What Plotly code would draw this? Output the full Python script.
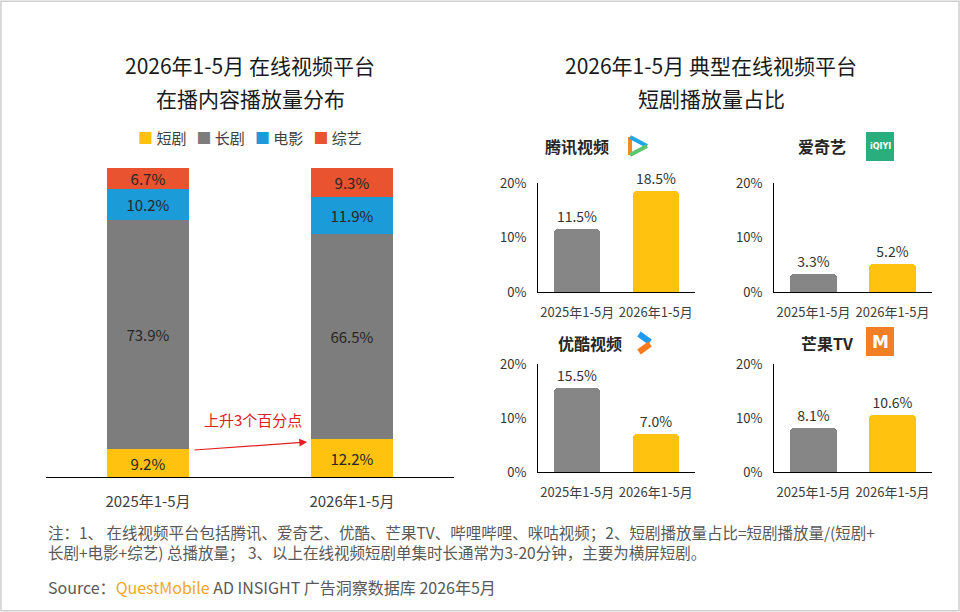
import plotly.graph_objects as go

# ---- data ----
periods = ['2025年1-5月', '2026年1-5月']
short_drama = [9.2, 12.2]
long_drama = [73.9, 66.5]
movie = [10.2, 11.9]
variety = [6.7, 9.3]

platforms = ['腾讯视频', '爱奇艺', '优酷视频', '芒果TV']
share_2025 = [11.5, 3.3, 15.5, 8.1]
share_2026 = [18.5, 5.2, 7.0, 10.6]

pct_ticks = [0, 10, 20]

W, H = 960, 612
FONT = 'Noto Sans CJK SC'
YELLOW = '#FFC20E'
GRAY = '#7d7d7d'
BLUE = '#1B9BD7'
RED = '#E9532F'


def px(x):
    return x / W


def py(y):
    return 1 - y / H


fig = go.Figure()

series = [('短剧', short_drama, YELLOW), ('长剧', long_drama, GRAY),
          ('电影', movie, BLUE), ('综艺', variety, RED)]

# left stacked chart
for name, vals, col in series:
    fig.add_trace(go.Bar(
        x=periods, y=vals, name=name, marker=dict(color=col, line=dict(width=0)),
        width=0.4, text=[f'{v:.1f}%' for v in vals], textposition='inside',
        insidetextanchor='middle', constraintext='none',
        textfont=dict(size=15, color='#262626', family=FONT),
        xaxis='x', yaxis='y', showlegend=False,
    ))

# small charts
for i, p in enumerate(platforms):
    k = i + 2
    vals = [share_2025[i], share_2026[i]]
    fig.add_trace(go.Bar(
        x=periods, y=vals, width=0.59,
        marker=dict(color=['#868686', YELLOW], line=dict(width=0), cornerradius=4),
        text=[f'{v:.1f}%' for v in vals], textposition='outside', cliponaxis=False,
        textfont=dict(size=14, color='#333333', family=FONT),
        xaxis=f'x{k}', yaxis=f'y{k}', showlegend=False,
    ))

layout = dict(
    width=W, height=H, margin=dict(l=0, r=0, t=0, b=0, autoexpand=False),
    paper_bgcolor='white', plot_bgcolor='rgba(0,0,0,0)',
    font=dict(family=FONT, color='#333333'),
    barmode='stack', bargap=0, showlegend=False,
    xaxis=dict(domain=[px(46), px(454)], anchor='y', range=[-0.5, 1.5],
               showline=True, linecolor='#000000', linewidth=1, showgrid=False,
               ticks='outside', ticklen=11, tickcolor='rgba(0,0,0,0)',
               tickfont=dict(size=15, color='#404040'), automargin=False),
    yaxis=dict(domain=[py(477), py(168)], range=[0, 100], visible=False),
)

cols = [(538, 695), (774, 932)]
rows = [(183, 292), (364, 472)]
for i in range(4):
    k = i + 2
    x0, x1 = cols[i % 2]
    y0, y1 = rows[i // 2]
    layout[f'xaxis{k}'] = dict(domain=[px(x0), px(x1)], anchor=f'y{k}', range=[-0.5, 1.5],
                               showline=True, linecolor='#000000', linewidth=1, showgrid=False,
                               ticks='outside', ticklen=8, tickcolor='rgba(0,0,0,0)',
                               tickfont=dict(size=13, color='#404040'), automargin=False)
    layout[f'yaxis{k}'] = dict(domain=[py(y1), py(y0)], anchor=f'x{k}', range=[0, 20],
                               tickmode='array', tickvals=pct_ticks,
                               ticktext=[f'{t}%' for t in pct_ticks],
                               showline=True, linecolor='#000000', linewidth=1,
                               showgrid=False, zeroline=False, automargin=False,
                               ticks='outside', ticklen=8, tickcolor='rgba(0,0,0,0)',
                               tickfont=dict(size=13, color='#333333'))

fig.update_layout(**layout)

ann = []
# titles
for x, lines in [(250, ['2026年1-5月 在线视频平台', '在播内容播放量分布']),
                 (711, ['2026年1-5月 典型在线视频平台', '短剧播放量占比'])]:
    for j, t in enumerate(lines):
        ann.append(dict(text=t, x=px(x), y=py(65 + 33 * j), xref='paper', yref='paper',
                        showarrow=False, xanchor='center', yanchor='middle',
                        font=dict(size=21, color='#1a1a1a', family=FONT)))

# legend row built from the series names and colours
legend_txt = '   '.join(f"<span style='color:{c}'>■</span> {n}" for n, _, c in series)
ann.append(dict(text=legend_txt, x=px(250), y=py(137), xref='paper', yref='paper',
                showarrow=False, xanchor='center', yanchor='middle',
                font=dict(size=15, color='#404040', family=FONT)))

# small chart titles
title_pos = [(577, 146), (822, 146), (590, 343), (827, 343)]
for p, (x, y) in zip(platforms, title_pos):
    ann.append(dict(text=f'<b>{p}</b>', x=px(x), y=py(y), xref='paper', yref='paper',
                    showarrow=False, xanchor='center', yanchor='middle',
                    font=dict(size=16, color='#262626', family=FONT)))

# arrow annotation on left chart
ann.append(dict(x=0.78, y=11.3, xref='x', yref='y', ax=0.22, ay=8.7, axref='x', ayref='y',
                showarrow=True, arrowhead=2, arrowsize=1.3, arrowwidth=1.2,
                arrowcolor='#E02020', text=''))
ann.append(dict(text='上升3个百分点', x=px(253), y=py(419), xref='paper', yref='paper',
                showarrow=False, xanchor='center', yanchor='middle',
                font=dict(size=15, color='#E02020', family=FONT)))

# logos text
ann.append(dict(text='<b>iQIYI</b>', x=px(880), y=py(146.5), xref='paper', yref='paper',
                showarrow=False, xanchor='center', yanchor='middle',
                font=dict(size=8, color='white', family='DejaVu Sans')))
ann.append(dict(text='<b>M</b>', x=px(880), y=py(341.5), xref='paper', yref='paper',
                showarrow=False, xanchor='center', yanchor='middle',
                font=dict(size=17, color='white', family='DejaVu Sans')))

# footnotes
notes = ['注：1、 在线视频平台包括腾讯、爱奇艺、优酷、芒果TV、哔哩哔哩、咪咕视频；2、短剧播放量占比=短剧播放量/(短剧+',
         '长剧+电影+综艺) 总播放量； 3、以上在线视频短剧单集时长通常为3-20分钟，主要为横屏短剧。']
ann.append(dict(text='<br>'.join(notes), x=px(46), y=py(542), xref='paper', yref='paper',
                showarrow=False, xanchor='left', yanchor='middle', align='left',
                font=dict(size=15.5, color='#595959', family=FONT)))
ann.append(dict(text="Source：<span style='color:#F5A623'>QuestMobile</span> AD INSIGHT 广告洞察数据库 2026年5月",
                x=px(46), y=py(587), xref='paper', yref='paper', showarrow=False,
                xanchor='left', yanchor='middle',
                font=dict(size=16, color='#595959', family=FONT)))

shapes = [
    dict(type='rect', xref='paper', yref='paper', x0=0.001, x1=0.999, y0=0.002, y1=0.998,
         line=dict(color='#cfcfcf', width=1.5), layer='below'),
    # tencent video logo
    dict(type='line', xref='paper', yref='paper', x0=px(630), y0=py(137), x1=px(630), y1=py(155),
         line=dict(color='#F08A24', width=4)),
    dict(type='line', xref='paper', yref='paper', x0=px(630), y0=py(137), x1=px(647), y1=py(146),
         line=dict(color='#1FA6E8', width=4)),
    dict(type='line', xref='paper', yref='paper', x0=px(630), y0=py(155), x1=px(647), y1=py(146),
         line=dict(color='#5CC66B', width=4)),
    # iqiyi logo
    dict(type='rect', xref='paper', yref='paper', x0=px(866), x1=px(894), y0=py(161), y1=py(132),
         fillcolor='#2AAE7E', line=dict(width=0)),
    # youku logo
    dict(type='line', xref='paper', yref='paper', x0=px(639), y0=py(334), x1=px(650), y1=py(342),
         line=dict(color='#1E9BF0', width=6)),
    dict(type='line', xref='paper', yref='paper', x0=px(650), y0=py(344), x1=px(639), y1=py(352),
         line=dict(color='#FF7A1A', width=6)),
    # mango tv logo
    dict(type='rect', xref='paper', yref='paper', x0=px(866), x1=px(894), y0=py(356), y1=py(327),
         fillcolor='#F27E26', line=dict(width=0)),
]

fig.update_layout(annotations=ann, shapes=shapes)

# page body has a default 8px margin; drop it so the figure fills the window
fig.write_html('out.html', config={'displayModeBar': False},
               post_script="document.body.style.margin='0';")
